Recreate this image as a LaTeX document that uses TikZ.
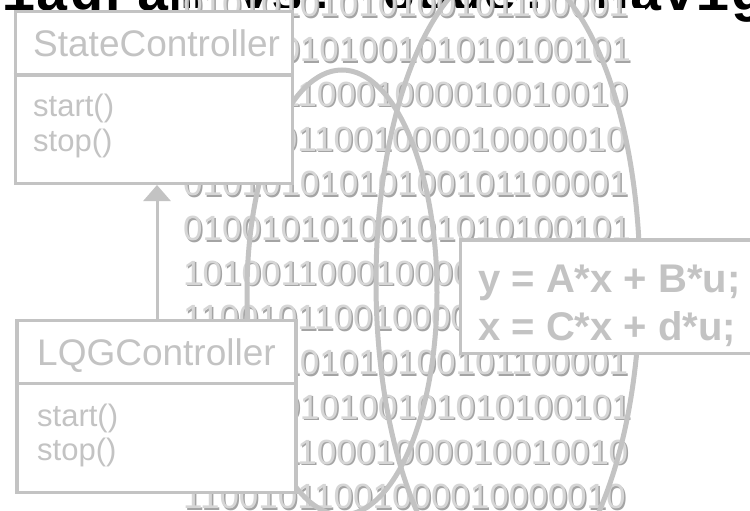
\documentclass[tikz,border=0pt]{standalone}
\usepackage{fontspec}
\setmainfont{Liberation Sans}
\newfontfamily\titlefont{Liberation Mono}
\usetikzlibrary{arrows.meta}
\definecolor{lg}{HTML}{C3C3C3}
\definecolor{dg}{HTML}{A4A4A4}
\definecolor{dl}{HTML}{D6D6D6}
\begin{document}
\begin{tikzpicture}[x=1pt,y=-1pt,
  boxline/.style={draw=lg,line width=3.5pt,fill=white,inner sep=0pt,anchor=north west},
  sepline/.style={draw=lg,line width=3.5pt},
  cls/.style={font=\fontsize{37}{37}\selectfont,text=lg,anchor=base west,inner sep=0pt},
  meth/.style={font=\fontsize{31}{31}\selectfont,text=lg,anchor=base west,inner sep=0pt},
  bits/.style={font=\fontsize{35}{35}\selectfont,text=dl,anchor=base west,inner sep=0pt},
  bitshadow/.style={font=\fontsize{35}{35}\selectfont,text=dg,anchor=base west,inner sep=0pt},
  ring/.style={draw=lg,line width=5pt},
  eqt/.style={font=\bfseries\fontsize{40}{40}\selectfont,text=lg,anchor=base west,inner sep=0pt},
]
\useasboundingbox (0,0) rectangle (750,511);
\clip (0,0) rectangle (750,511);
\fill[white] (0,0) rectangle (750,511);
% title (cut off at the top)
\node[font=\titlefont\bfseries\fontsize{56}{56}\selectfont,anchor=base west,inner sep=0pt] (title) at (-166,11) {UML diagram vs. code: navigation};
\fill[white] (180,8) rectangle (645,511);
% binary digits
\foreach \s [count=\i from 0] in {
  01010101010100101100001,
  01001010100101010100101,
  10100110001000010010010,
  11001011001000010000010,
  01010101010100101100001,
  01001010100101010100101,
  10100110001000010010010,
  11001011001000010000010,
  01010101010100101100001,
  01001010100101010100101,
  10100110001000010010010,
  11001011001000010000010}{
  \node[bitshadow] (bs\i) at (184.5,18.5+44.7*\i) {\s};
  \node[bits] (b\i) at (183,17+44.7*\i) {\s};
}
% ellipses
\draw[ring] (342,292.5) ellipse [x radius=95, y radius=222.5];
\draw[ring] (508,282) ellipse [x radius=132, y radius=317];
% StateController
\node[boxline,minimum width=277pt,minimum height=171.5pt] (sc) at (13.5,10) {};
\draw[sepline] ([yshift=-65pt]sc.north west) -- ([yshift=-65pt]sc.north east);
\node[cls] (sct) at (33,57) {StateController};
\node[meth] (sc1) at (33,116) {start()};
\node[meth] (sc2) at (33,151) {stop()};
% LQGController
\node[boxline,minimum width=279pt,minimum height=172pt] (lq) at (15,318.5) {};
\draw[sepline] ([yshift=-65pt]lq.north west) -- ([yshift=-65pt]lq.north east);
\node[cls] (lqt) at (37,365) {LQGController};
\node[meth] (lq1) at (37,426) {start()};
\node[meth] (lq2) at (37,460) {stop()};
% inheritance arrow
\coordinate (ax) at (157,250);
\draw[draw=lg,line width=3pt,-{Triangle[length=16pt,width=27pt]}] (lq.north -| ax) -- (sc.south -| ax);
% equation box
\node[boxline,minimum width=302pt,minimum height=113.5pt] (eq) at (458.5,238) {};
\node[eqt] (e1) at (478,292) {y = A*x + B*u;};
\node[eqt] (e2) at (478,340) {x = C*x + d*u;};
\end{tikzpicture}
\end{document}
